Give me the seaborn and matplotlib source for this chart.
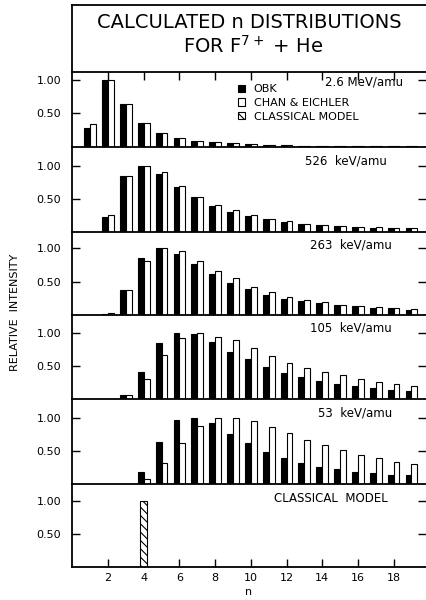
import numpy as np
import pandas as pd
import matplotlib
matplotlib.use("Agg")
import matplotlib.pyplot as plt
from matplotlib.patches import Patch
import seaborn as sns

# ---------------- data ----------------
n_26 = list(range(1, 20))
obk_26 = [0.28, 1.00, 0.64, 0.35, 0.205, 0.13, 0.09, 0.065, 0.05, 0.035,
          0.025, 0.02, 0.015, 0.012, 0.01, 0.01, 0.008, 0.008, 0.006]
ce_26 = [0.34, 1.00, 0.64, 0.35, 0.20, 0.13, 0.09, 0.065, 0.05, 0.035,
         0.025, 0.02, 0.015, 0.012, 0.01, 0.01, 0.008, 0.008, 0.006]

n_526 = list(range(2, 20))
obk_526 = [0.23, 0.84, 1.00, 0.87, 0.675, 0.525, 0.40, 0.31, 0.245, 0.195,
           0.16, 0.125, 0.105, 0.09, 0.08, 0.07, 0.065, 0.06]
ce_526 = [0.26, 0.84, 1.00, 0.90, 0.70, 0.535, 0.41, 0.33, 0.255, 0.205,
          0.165, 0.13, 0.11, 0.095, 0.085, 0.075, 0.07, 0.065]

n_263 = list(range(2, 20))
obk_263 = [0.01, 0.375, 0.85, 1.00, 0.915, 0.76, 0.615, 0.485, 0.39, 0.305,
           0.245, 0.21, 0.175, 0.145, 0.13, 0.11, 0.10, 0.08]
ce_263 = [0.03, 0.375, 0.81, 1.00, 0.96, 0.81, 0.665, 0.55, 0.425, 0.345,
          0.275, 0.225, 0.20, 0.155, 0.135, 0.115, 0.105, 0.09]

n_105 = list(range(3, 20))
obk_105 = [0.07, 0.405, 0.84, 1.00, 0.985, 0.865, 0.71, 0.60, 0.49, 0.40,
           0.335, 0.28, 0.235, 0.205, 0.17, 0.145, 0.13]
ce_105 = [0.065, 0.30, 0.66, 0.925, 1.00, 0.94, 0.89, 0.765, 0.65, 0.55,
          0.475, 0.41, 0.36, 0.305, 0.26, 0.235, 0.20]

n_53 = list(range(3, 20))
obk_53 = [0.01, 0.18, 0.64, 0.965, 1.00, 0.915, 0.755, 0.615, 0.49, 0.40,
          0.325, 0.265, 0.225, 0.18, 0.165, 0.14, 0.135]
ce_53 = [0.01, 0.08, 0.315, 0.615, 0.875, 1.00, 1.00, 0.955, 0.865, 0.765,
         0.665, 0.59, 0.515, 0.44, 0.39, 0.335, 0.30]

n_classical = [4]
classical = [1.00]

panel_labels = ["2.6 MeV/amu", "526  keV/amu", "263  keV/amu",
                "105  keV/amu", "53  keV/amu", "CLASSICAL  MODEL"]
model_names = ["OBK", "CHAN & EICHLER", "CLASSICAL MODEL"]
x_ticks = [2, 4, 6, 8, 10, 12, 14, 16, 18]
y_ticks = [0.50, 1.00]
y_ticklabels = ["0.50", "1.00"]

# ---------------- styling ----------------
sns.set_style("ticks")
plt.rcParams['font.family'] = ['DejaVu Sans']
plt.rcParams['hatch.linewidth'] = 0.8
for key in ["text.color", "axes.labelcolor", "xtick.color", "ytick.color",
            "axes.edgecolor", "hatch.color"]:
    plt.rcParams[key] = "black"

W, H = 427, 600
fig = plt.figure(figsize=(W / 100, H / 100), dpi=100)
fig.patch.set_facecolor("white")

x_left_px, x_right_px = 72.3, 425.7
px_per_unit = 66.7
bounds = [(72, 146.7), (146.7, 232.3), (232.3, 315), (315, 399.3),
          (399.3, 484.3), (484.3, 567.3)]


def make_axes(top_px, bot_px):
    return fig.add_axes([x_left_px / W, 1 - bot_px / H,
                         (x_right_px - x_left_px) / W, (bot_px - top_px) / H])


# title box
tax = make_axes(5, 72)
tax.set_xticks([]); tax.set_yticks([])
for s in ["right", "bottom"]:
    tax.spines[s].set_visible(False)
for s in ["left", "top"]:
    tax.spines[s].set_linewidth(1.3)
    tax.spines[s].set_color("black")
tax.set_facecolor("white")
fig.text(0.5 * (x_left_px + 426) / W, 1 - 23 / H, "CALCULATED n DISTRIBUTIONS",
         ha="center", va="center", fontsize=14, color="black")
fig.text(0.5 * (x_left_px + 426) / W + 0.01, 1 - 46 / H,
         r"FOR F$^{\mathregular{7+}}$ + He", ha="center", va="center",
         fontsize=14, color="black")

pair_data = [(n_26, obk_26, ce_26), (n_526, obk_526, ce_526),
             (n_263, obk_263, ce_263), (n_105, obk_105, ce_105),
             (n_53, obk_53, ce_53)]
label_pos = [(403, 82), (387, 160.7), (392, 245), (392, 328), (392, 413), (388, 498)]
palette = {model_names[0]: "black", model_names[1]: "white"}

axes = []
for i, (top_px, bot_px) in enumerate(bounds):
    ax = make_axes(top_px, bot_px)
    axes.append(ax)
    if i < 5:
        nn, a, b = pair_data[i]
        df = pd.DataFrame({
            "n": nn + nn,
            "value": a + b,
            "model": [model_names[0]] * len(nn) + [model_names[1]] * len(nn),
        })
        sns.barplot(data=df, x="n", y="value", hue="model",
                    hue_order=model_names[:2], palette=palette,
                    native_scale=True, width=0.66, errorbar=None,
                    saturation=1, edgecolor="black", linewidth=0.8,
                    legend=False, ax=ax)
    else:
        df = pd.DataFrame({"n": n_classical, "value": classical})
        sns.barplot(data=df, x="n", y="value", native_scale=True, width=0.4,
                    errorbar=None, color="white", saturation=1,
                    edgecolor="black", linewidth=0.8, ax=ax)
        for p in ax.patches:
            p.set_hatch("\\\\\\\\")
    ax.set_xlim(0, (x_right_px - x_left_px) / 17.85)
    ax.set_ylim(0, (bot_px - top_px) / px_per_unit)
    ax.set_xlabel(""); ax.set_ylabel("")
    ax.set_yticks(y_ticks)
    ax.set_yticklabels(y_ticklabels)
    ax.spines["right"].set_visible(False)
    ax.spines["top"].set_visible(i == 0)
    for s in ["left", "bottom", "top"]:
        ax.spines[s].set_linewidth(1.3)
        ax.spines[s].set_color("black")
    ax.tick_params(axis="y", direction="in", length=6, width=1.0,
                   labelsize=8, pad=8, right=True, colors="black")
    ax.set_xticks(x_ticks)
    if i == 0:
        ax.tick_params(axis="x", direction="in", length=6, width=1.0,
                       top=True, bottom=False, labelbottom=False, colors="black")
    elif i == 5:
        ax.tick_params(axis="x", direction="in", length=6, width=1.0,
                       top=False, bottom=True, labelsize=8, pad=4, colors="black")
        ax.set_xlabel("n", fontsize=8, labelpad=3, color="black")
    else:
        ax.tick_params(axis="x", bottom=False, top=False, labelbottom=False)
    ax.set_facecolor("none")
    lx, ly = label_pos[i]
    fig.text(lx / W, 1 - ly / H, panel_labels[i], ha="right", va="center",
             fontsize=8.5, color="black")

handles = [Patch(facecolor="black", edgecolor="black", linewidth=0.8),
           Patch(facecolor="white", edgecolor="black", linewidth=0.8),
           Patch(facecolor="white", edgecolor="black", linewidth=0.8, hatch="\\\\\\\\")]
leg = axes[0].legend(handles, model_names, loc="upper left",
                     bbox_to_anchor=((238 - x_left_px) / (x_right_px - x_left_px),
                                     (146.7 - 84) / (146.7 - 72)),
                     frameon=False, fontsize=8, handlelength=0.6, handleheight=0.6,
                     handletextpad=0.8, labelspacing=0.35, borderaxespad=0,
                     borderpad=0)
for t in leg.get_texts():
    t.set_color("black")

fig.text(15 / W, 1 - 312 / H, "RELATIVE  INTENSITY", rotation=90,
         ha="center", va="center", fontsize=8, color="black")

fig.savefig("out.png", dpi=100, facecolor="white")
